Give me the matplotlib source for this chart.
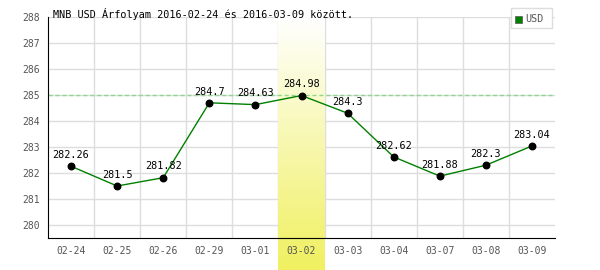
import numpy as np
import matplotlib
matplotlib.use('Agg')
import matplotlib.pyplot as plt
from matplotlib.colors import LinearSegmentedColormap
from matplotlib.patches import Rectangle

dates = ['02-24', '02-25', '02-26', '02-29', '03-01', '03-02',
         '03-03', '03-04', '03-07', '03-08', '03-09']
rates = [282.26, 281.5, 281.82, 284.7, 284.63, 284.98,
         284.3, 282.62, 281.88, 282.3, 283.04]
labels = ['282.26', '281.5', '281.82', '284.7', '284.63', '284.98',
          '284.3', '282.62', '281.88', '282.3', '283.04']
highlight = '03-02'
ref_level = 285

plt.rcParams['font.family'] = ['DejaVu Sans Mono']

fig = plt.figure(figsize=(6, 2.7), dpi=100)
ax = fig.add_axes([0.08, 0.1185, 0.845, 0.8185])

x = np.arange(len(dates))
ax.set_xlim(-0.5, len(dates) - 0.5)
ax.set_ylim(279.5, 288)

# racs
ax.set_yticks(range(280, 289))
ax.set_xticks(x)
ax.set_xticklabels(dates)
for v in np.arange(0.5, len(dates) - 0.5):
    ax.axvline(v, color='#dddddd', lw=1, zorder=1)
for v in range(280, 289):
    ax.axhline(v, color='#dddddd', lw=1, zorder=1)

# kiemelt nap, szinatmenet
hi = dates.index(highlight)
cmap = LinearSegmentedColormap.from_list('sarga', ['#f0f060', '#ffffff'])
grad = np.linspace(0, 1, 256).reshape(-1, 1)
ax.imshow(grad, cmap=cmap, aspect='auto', origin='lower',
          extent=(hi - 0.5, hi + 0.5, 278.27, 288), zorder=2, clip_on=False)

ax.axhline(ref_level, color='#90d890', lw=1, ls=(0, (3, 2)), zorder=3)

ax.plot(x, rates, color='#008000', lw=1, zorder=4)
ax.scatter(x, rates, color='black', s=22, zorder=5)
for xi, yi, t in zip(x, rates, labels):
    ax.annotate(t, (xi, yi), xytext=(0, 4.5), textcoords='offset points',
                ha='center', va='bottom', fontsize=7.3, color='black', zorder=6)

for s in ['top', 'right']:
    ax.spines[s].set_visible(False)
ax.spines['left'].set_color('black')
ax.spines['bottom'].set_color('black')
ax.spines['left'].set_zorder(7)
ax.spines['bottom'].set_zorder(7)
ax.tick_params(length=0, colors='#555555', labelsize=7, pad=6)
ax.xaxis.set_zorder(8)
ax.yaxis.set_zorder(8)

fig.text(0.088, 0.95, 'MNB USD Árfolyam 2016-02-24 és 2016-03-09 között.',
         fontsize=7.3, color='black', va='center')

# jelmagyarazat
fig.patches.append(Rectangle((0.852, 0.896), 0.068, 0.074, transform=fig.transFigure,
                             facecolor='white', edgecolor='#dddddd', lw=1))
fig.patches.append(Rectangle((0.858, 0.915), 0.012, 0.026, transform=fig.transFigure,
                             facecolor='#008000', edgecolor='#555555', lw=0.5))
fig.text(0.876, 0.929, 'USD', fontsize=7.3, color='#555555', va='center')

fig.savefig('out.png', dpi=100)
